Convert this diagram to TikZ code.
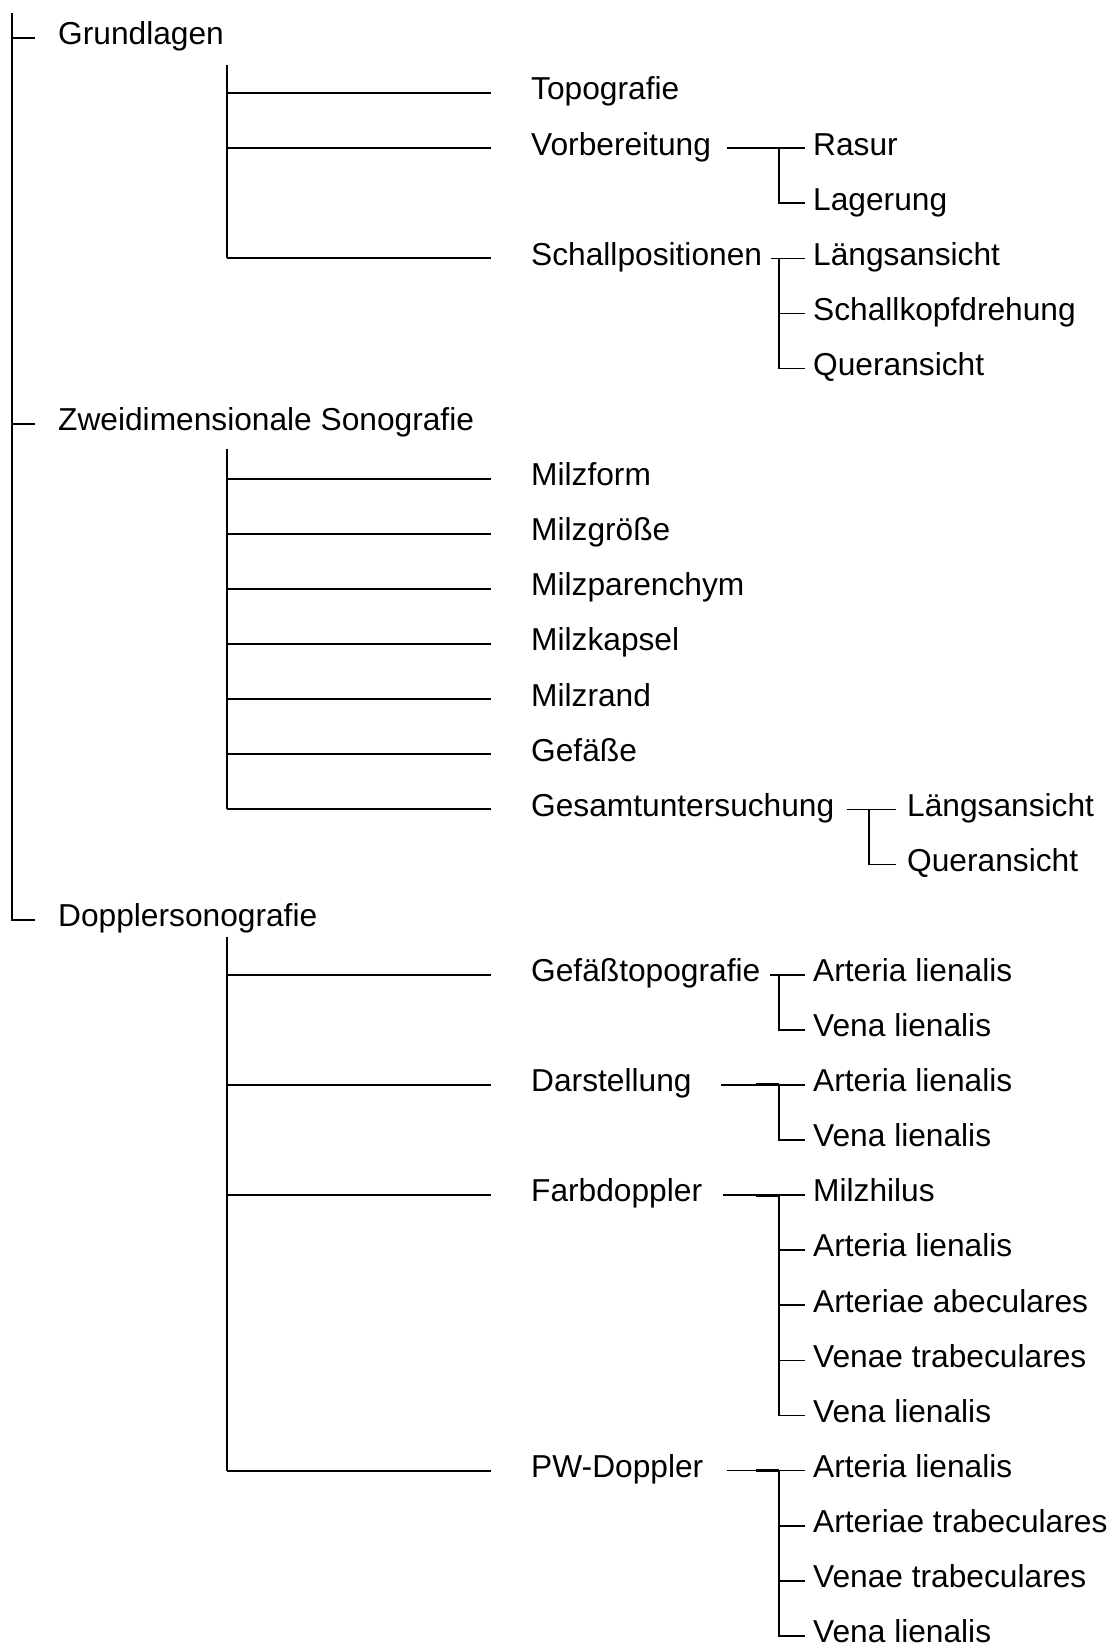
\documentclass[tikz,border=0pt]{standalone}
\usepackage{fontspec}
\setmainfont{Liberation Sans}
\begin{document}
\begin{tikzpicture}
[x=1pt,y=-55.1pt,
 treeline/.style={line width=1.9pt},
 leafline/.style={line width=1.7pt},
 jointline/.style={line width=2.9pt},
 lbl/.style={anchor=west,inner sep=0pt,text height=22pt,text depth=8.4pt,
   font=\fontsize{31.7}{36}\selectfont}]
\useasboundingbox (0,-0.6897) rectangle (1115,29.22);
%% columns of the tree
\coordinate (c1) at (12,0);  \coordinate (c1e) at (35,0);
\coordinate (c2) at (227,0); \coordinate (c2e) at (491,0);
\coordinate (c3) at (779,0); \coordinate (c3e) at (805,0);
\coordinate (c4) at (869,0); \coordinate (c4e) at (896,0);
%% first level
\node[lbl] (grund) at (58,0) {Grundlagen};
\node[lbl] (zweid) at (58,7) {Zweidimensionale Sonografie};
\node[lbl] (doppl) at (58,16) {Dopplersonografie};
\draw[treeline] (grund.west -| c1) ++(0,-0.4537) -- (doppl.west -| c1) -- (doppl.west -| c1e);
\foreach \n in {grund,zweid}
  \draw[treeline] (\n.west -| c1) -- (\n.west -| c1e);
%% second level
\foreach \n/\r/\t in {topo/1/Topografie, vorb/2/Vorbereitung, spos/4/Schallpositionen,
  mform/8/Milzform, mgr/9/Milzgröße, mpar/10/Milzparenchym, mkap/11/Milzkapsel,
  mrand/12/Milzrand, gef/13/Gefäße, gesamt/14/Gesamtuntersuchung,
  gtop/17/Gefäßtopografie, darst/19/Darstellung, farb/21/Farbdoppler, pw/26/PW-Doppler} {
  \node[lbl] (\n) at (531,\r) {\t};
  \draw[treeline] (\n.west -| c2) -- (\n.west -| c2e);
}
\draw[treeline] (grund.west -| c2) ++(0,0.49) -- (spos.west -| c2);
\draw[treeline] (zweid.west -| c2) ++(0,0.454) -- (gesamt.west -| c2);
\draw[treeline] (doppl.west -| c2) ++(0,0.309) -- (pw.west -| c2);
%% third level
\foreach \n/\r/\t in {rasur/2/Rasur, lager/3/Lagerung,
  slang/4/Längsansicht, sdreh/5/Schallkopfdrehung, squer/6/Queransicht,
  gart/17/Arteria lienalis, gven/18/Vena lienalis,
  dart/19/Arteria lienalis, dven/20/Vena lienalis,
  fhil/21/Milzhilus, fart/22/Arteria lienalis, farts/23/Arteriae abeculares,
  fvens/24/Venae trabeculares, fven/25/Vena lienalis,
  part/26/Arteria lienalis, parts/27/Arteriae trabeculares,
  pvens/28/Venae trabeculares, pven/29/Vena lienalis}
  \node[lbl] (\n) at (813,\r) {\t};
\node[lbl] (glang) at (907,14) {Längsansicht};
\node[lbl] (gquer) at (907,15) {Queransicht};
%% parent lines into the third level
\foreach \p/\s in {vorb/-52, spos/-8, gtop/-9, darst/-58, farb/-56, pw/-52}
  \draw[leafline] (\p.west -| c3) ++(\s,0) -- (\p.west -| c3e);
\draw[leafline] (gesamt.west -| c4) ++(-22,0) -- (gesamt.west -| c4e);
\foreach \p in {darst, farb, pw}
  \draw[jointline] (\p.west -| c3) ++(-23,0) -- (\p.west -| c3);
%% brackets
\foreach \p/\l in {vorb/lager, spos/squer, gtop/gven, darst/dven, farb/fven, pw/pven}
  \draw[leafline] (\p.west -| c3) -- (\l.west -| c3) -- (\l.west -| c3e);
\draw[leafline] (gesamt.west -| c4) -- (gquer.west -| c4) -- (gquer.west -| c4e);
\foreach \c in {sdreh, fart, farts, fvens, parts, pvens}
  \draw[leafline] (\c.west -| c3) -- (\c.west -| c3e);
\end{tikzpicture}
\end{document}
